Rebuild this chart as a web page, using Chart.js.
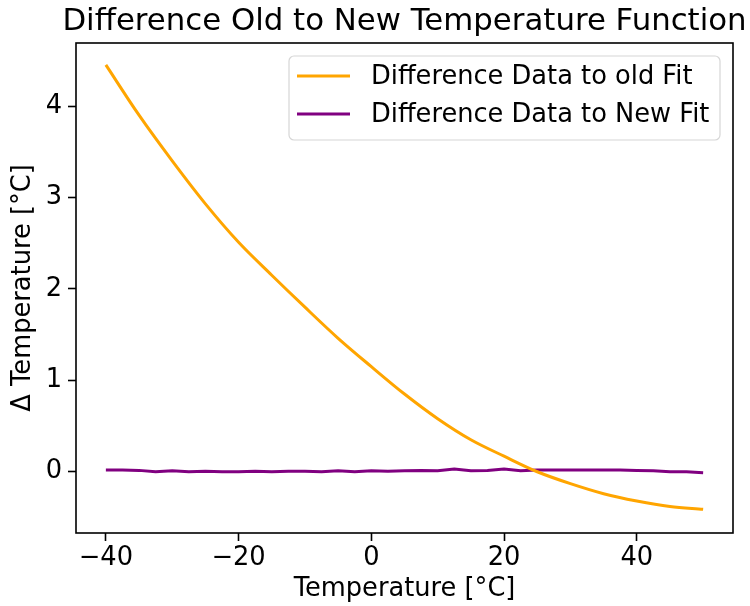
<!DOCTYPE html>
<html>
<head>
<meta charset="utf-8">
<script src="https://cdn.jsdelivr.net/npm/chart.js@4"></script>
<style>
  html, body { margin: 0; padding: 0; background: #fff; }
  #wrap { width: 750px; height: 606px; position: relative; }
</style>
</head>
<body>
<div id="wrap"><canvas id="chart" width="750" height="606"></canvas></div>
<script>
// ─── Data ──────────────────────────────────────────────────
const titleText   = 'Difference Old to New Temperature Function';
const xLabel      = 'Temperature [°C]';
const yLabel      = 'Δ Temperature [°C]';
const xTicks      = [-40, -20, 0, 20, 40];
const yTicks      = [0, 1, 2, 3, 4];

const oldFitLabel = 'Difference Data to old Fit';
const oldFitX     = [-40, -35, -30, -25, -20, -15, -10, -5, 0, 5, 10, 15, 20, 25, 30, 35, 40, 45, 50];
const oldFitY     = [4.45, 3.90, 3.40, 2.93, 2.51, 2.15, 1.80, 1.46, 1.15, 0.85, 0.58, 0.35, 0.17, 0.0, -0.13, -0.24, -0.32, -0.38, -0.41];

const newFitLabel = 'Difference Data to New Fit';
const newFitX     = [-40, -37.5, -35, -32.5, -30, -27.5, -25, -22.5, -20, -17.5, -15, -12.5, -10, -7.5, -5, -2.5, 0,
                     2.5, 5, 7.5, 10, 12.5, 15, 17.5, 20, 22.5, 25, 27.5, 30, 32.5, 35, 37.5, 40, 42.5, 45, 47.5, 50];
const newFitY     = [0.02, 0.02, 0.015, 0.0, 0.01, 0.0, 0.005, 0.0, 0.0, 0.005, 0.0, 0.005, 0.005, 0.0, 0.01, 0.0, 0.01,
                     0.005, 0.01, 0.015, 0.01, 0.03, 0.01, 0.015, 0.03, 0.01, 0.02, 0.02, 0.02, 0.02, 0.02, 0.02, 0.015, 0.01, 0.0, 0.0, -0.01];

const FONT = "'DejaVu Sans', sans-serif";
const minus = v => String(v).replace('-', '\u2212');

// ─── Frame, title and in-axes legend ───────────────────────
const framePlugin = {
  id: 'frame',
  afterDraw(chart) {
    const { ctx, chartArea: a } = chart;
    ctx.save();
    ctx.strokeStyle = '#000';
    ctx.lineWidth = 1.6;
    ctx.strokeRect(a.left, a.top, a.right - a.left, a.bottom - a.top);

    // title, centred over the axes
    ctx.fillStyle = '#000';
    ctx.font = `30.8px ${FONT}`;
    ctx.textAlign = 'center';
    ctx.textBaseline = 'middle';
    ctx.fillText(titleText, (a.left + a.right) / 2, 22);

    // legend box
    const bx = 289, by = 56, bw = 431, bh = 84, r = 5;
    ctx.beginPath();
    ctx.moveTo(bx + r, by);
    ctx.arcTo(bx + bw, by, bx + bw, by + bh, r);
    ctx.arcTo(bx + bw, by + bh, bx, by + bh, r);
    ctx.arcTo(bx, by + bh, bx, by, r);
    ctx.arcTo(bx, by, bx + bw, by, r);
    ctx.closePath();
    ctx.fillStyle = 'rgba(255,255,255,0.8)';
    ctx.fill();
    ctx.strokeStyle = '#d6d6d6';
    ctx.lineWidth = 1.2;
    ctx.stroke();

    ctx.font = `25.7px ${FONT}`;
    ctx.textAlign = 'left';
    chart.data.datasets.forEach((ds, i) => {
      const y = 76 + i * 38;
      ctx.beginPath();
      ctx.strokeStyle = ds.borderColor;
      ctx.lineWidth = 3;
      ctx.moveTo(297, y);
      ctx.lineTo(350, y);
      ctx.stroke();
      ctx.fillStyle = '#000';
      ctx.fillText(ds.label, 371, y + 1);
    });
    ctx.restore();
  },
};

new Chart(document.getElementById('chart'), {
  type: 'line',
  data: {
    datasets: [
      {
        label: oldFitLabel,
        data: oldFitX.map((x, i) => ({ x, y: oldFitY[i] })),
        borderColor: '#ffa500',
        borderWidth: 3,
        pointRadius: 0,
        cubicInterpolationMode: 'monotone',
        fill: false,
      },
      {
        label: newFitLabel,
        data: newFitX.map((x, i) => ({ x, y: newFitY[i] })),
        borderColor: '#800080',
        borderWidth: 3,
        pointRadius: 0,
        tension: 0,
        fill: false,
      },
    ],
  },
  options: {
    responsive: false,
    animation: false,
    layout: { padding: { top: 43, right: 17, bottom: 0, left: 0 } },
    plugins: {
      legend:  { display: false },
      title:   { display: false },
      tooltip: { enabled: false },
    },
    scales: {
      x: {
        type: 'linear',
        min: -44.5,
        max: 54.5,
        afterBuildTicks: s => { s.ticks = xTicks.map(v => ({ value: v })); },
        afterFit: s => { s.height = 73; },
        grid:   { display: true, drawOnChartArea: false, tickLength: 8, color: '#000', tickWidth: 1.6 },
        border: { display: false },
        ticks:  { color: '#000', font: { family: FONT, size: 25.7 }, padding: 2, maxRotation: 0, callback: v => minus(v) },
        title:  { display: true, text: xLabel, color: '#000', font: { family: FONT, size: 25.7 }, padding: { top: 0, bottom: 1 } },
      },
      y: {
        type: 'linear',
        min: -0.67,
        max: 4.69,
        afterBuildTicks: s => { s.ticks = yTicks.map(v => ({ value: v })); },
        afterFit: s => { s.width = 76; },
        grid:   { display: true, drawOnChartArea: false, tickLength: 8, color: '#000', tickWidth: 1.6 },
        border: { display: false },
        ticks:  { color: '#000', font: { family: FONT, size: 25.7 }, padding: 6, callback: v => minus(v) },
        title:  { display: true, text: yLabel, color: '#000', font: { family: FONT, size: 25.7 }, padding: { top: 8, bottom: 0 } },
      },
    },
  },
  plugins: [framePlugin],
});
</script>
</body>
</html>
